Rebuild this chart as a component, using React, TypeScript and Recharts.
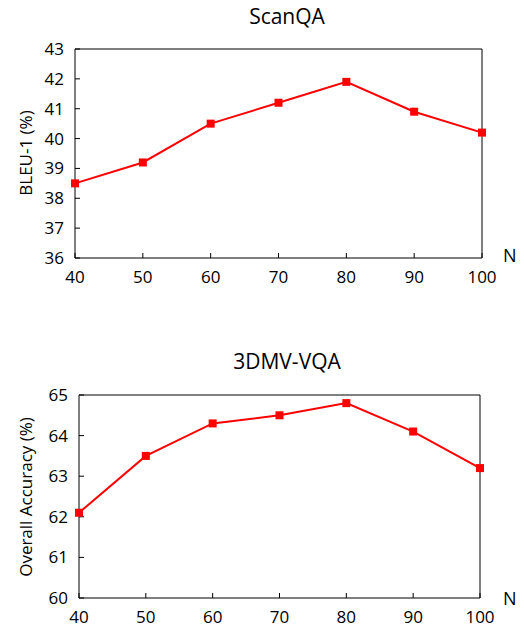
import React from 'react';
import { LineChart, Line, XAxis, YAxis, ReferenceLine } from 'recharts';

const nValues = [40, 50, 60, 70, 80, 90, 100];
const scanqaBleu = [38.5, 39.2, 40.5, 41.2, 41.9, 40.9, 40.2];
const mvqaAccuracy = [62.1, 63.5, 64.3, 64.5, 64.8, 64.1, 63.2];
const scanqaTicks = [36, 37, 38, 39, 40, 41, 42, 43];
const mvqaTicks = [60, 61, 62, 63, 64, 65];

const scanqaData = nValues.map((n, i) => ({ n, value: scanqaBleu[i] }));
const mvqaData = nValues.map((n, i) => ({ n, value: mvqaAccuracy[i] }));

const FONT = '"Open Sans", sans-serif';
const RED = '#ff0000';

const SquareDot = (props: any) => {
  const { cx, cy, index } = props;
  if (cx == null || cy == null) return null;
  return <rect key={`sq-${index}`} x={cx - 4} y={cy - 4} width={8} height={8} fill={RED} />;
};

type PanelProps = {
  top: number;
  height: number;
  data: { n: number; value: number }[];
  ticks: number[];
  margin: { top: number; right: number; bottom: number; left: number };
  yWidth: number;
  title: string;
  titleTop: number;
  yLabel: string;
  yLabelCenter: number;
  nTop: number;
};

const Panel = ({ top, height, data, ticks, margin, yWidth, title, titleTop, yLabel, yLabelCenter, nTop }: PanelProps) => {
  const yMin = ticks[0];
  const yMax = ticks[ticks.length - 1];
  return (
    <div style={{ position: 'absolute', left: 0, top, width: 524, height }}>
      <LineChart width={524} height={height} data={data} margin={margin}>
        <XAxis
          dataKey="n"
          type="number"
          domain={[40, 100]}
          ticks={nValues}
          height={30}
          stroke="#000"
          tickSize={-5}
          tickMargin={18}
          tick={{ fontSize: 17, fill: '#000', fontFamily: FONT }}
        />
        <YAxis
          type="number"
          domain={[yMin, yMax]}
          ticks={ticks}
          width={yWidth}
          stroke="#000"
          tickSize={-5}
          tickMargin={16}
          tick={{ fontSize: 17, fill: '#000', fontFamily: FONT }}
        />
        <ReferenceLine y={yMax} stroke="#000" strokeWidth={1} />
        <ReferenceLine x={100} stroke="#000" strokeWidth={1} />
        <Line
          type="linear"
          dataKey="value"
          stroke={RED}
          strokeWidth={2}
          dot={<SquareDot />}
          activeDot={false}
          isAnimationActive={false}
        />
      </LineChart>
      <div
        style={{
          position: 'absolute',
          left: 0,
          width: 524,
          top: titleTop,
          textAlign: 'center',
          paddingLeft: 50,
          boxSizing: 'border-box',
          fontFamily: FONT,
          fontSize: 21,
          color: '#000',
          lineHeight: 1,
        }}
      >
        {title}
      </div>
      <div
        style={{
          position: 'absolute',
          left: 25,
          top: yLabelCenter,
          transform: 'translate(-50%, -50%) rotate(-90deg)',
          whiteSpace: 'nowrap',
          fontFamily: FONT,
          fontSize: 17,
          color: '#000',
          lineHeight: 1,
        }}
      >
        {yLabel}
      </div>
      <div
        style={{
          position: 'absolute',
          left: 503,
          top: nTop,
          fontFamily: FONT,
          fontSize: 18,
          color: '#000',
          lineHeight: 1,
        }}
      >
        N
      </div>
    </div>
  );
};

export default function App() {
  return (
    <div style={{ position: 'absolute', left: 0, top: 0, width: 524, height: 629, background: '#fff' }}>
      <Panel
        top={0}
        height={300}
        data={scanqaData}
        ticks={scanqaTicks}
        margin={{ top: 49, right: 42, bottom: 12, left: 0 }}
        yWidth={75}
        title="ScanQA"
        titleTop={6}
        yLabel="BLEU-1 (%)"
        yLabelCenter={153}
        nTop={246}
      />
      <Panel
        top={330}
        height={299}
        data={mvqaData}
        ticks={mvqaTicks}
        margin={{ top: 65, right: 44, bottom: 1, left: 0 }}
        yWidth={79}
        title="3DMV-VQA"
        titleTop={21}
        yLabel="Overall Accuracy (%)"
        yLabelCenter={167}
        nTop={259}
      />
    </div>
  );
}
